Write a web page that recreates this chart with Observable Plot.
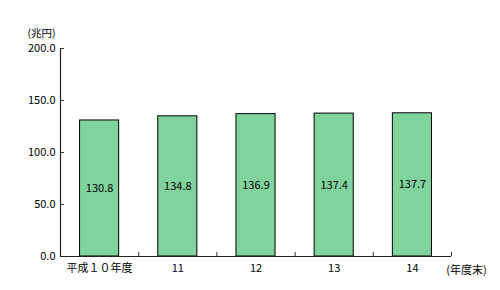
<!DOCTYPE html>
<html><head><meta charset="utf-8">
<script src="https://cdn.jsdelivr.net/npm/d3@7"></script>
<script src="https://cdn.jsdelivr.net/npm/@observablehq/plot@0.6"></script>
<style>body{margin:0;background:#fff}</style>
</head><body><div id="chart"></div>
<script>
const categories = ["平成１０年度", "11", "12", "13", "14"];
const values = [130.8, 134.8, 136.9, 137.4, 137.7];
const yTicks = [0, 50, 100, 150, 200];
const yUnit = "(兆円)";
const xUnit = "(年度末)";

const data = categories.map((c, i) => ({c, i, v: values[i]}));
const font = "'Noto Sans CJK JP', sans-serif";
const blank = () => "";

const chart = Plot.plot({
  width: 500, height: 290,
  marginLeft: 60, marginRight: 49, marginTop: 48, marginBottom: 34,
  style: {fontFamily: font, fontSize: "11px", color: "#000", background: "#fff"},
  x: {domain: [0, categories.length], axis: null},
  y: {domain: [0, 200], axis: null},
  marks: [
    Plot.rectY(data, {x1: d => d.i + 0.25, x2: d => d.i + 0.75, y: "v", fill: "#80d39c", stroke: "#000", strokeWidth: 1}),
    Plot.text(data, {x: d => d.i + 0.5, y: d => d.v / 2, text: d => d.v.toFixed(1), fill: "#000", fontSize: 11}),
    Plot.axisY({ticks: yTicks, tickSize: -4, tickFormat: blank, stroke: "#333", label: null}),
    Plot.axisY({ticks: yTicks, tickSize: 0, tickPadding: 5, tickFormat: d => d.toFixed(1), fill: "#000", label: null}),
    Plot.axisX({ticks: d3.range(categories.length + 1), tickSize: -4, tickFormat: blank, stroke: "#333", label: null}),
    Plot.axisX({ticks: categories.map((c, i) => i + 0.5), tickSize: 0, tickPadding: 8, tickFormat: (d) => categories[Math.floor(d)], fill: "#000", label: null}),
    Plot.ruleX([0], {stroke: "#222", strokeWidth: 1.2}),
    Plot.ruleY([0], {stroke: "#222", strokeWidth: 1.2}),
    Plot.text([yUnit], {frameAnchor: "top-left", dx: -19, dy: -12, lineAnchor: "bottom", text: d => d, textAnchor: "middle", fill: "#000", fontSize: 10.5}),
    Plot.text([xUnit], {frameAnchor: "bottom-right", dx: 15, dy: 17, text: d => d, textAnchor: "middle", fill: "#000"})
  ]
});
document.getElementById("chart").appendChild(chart);
</script>
</body></html>
